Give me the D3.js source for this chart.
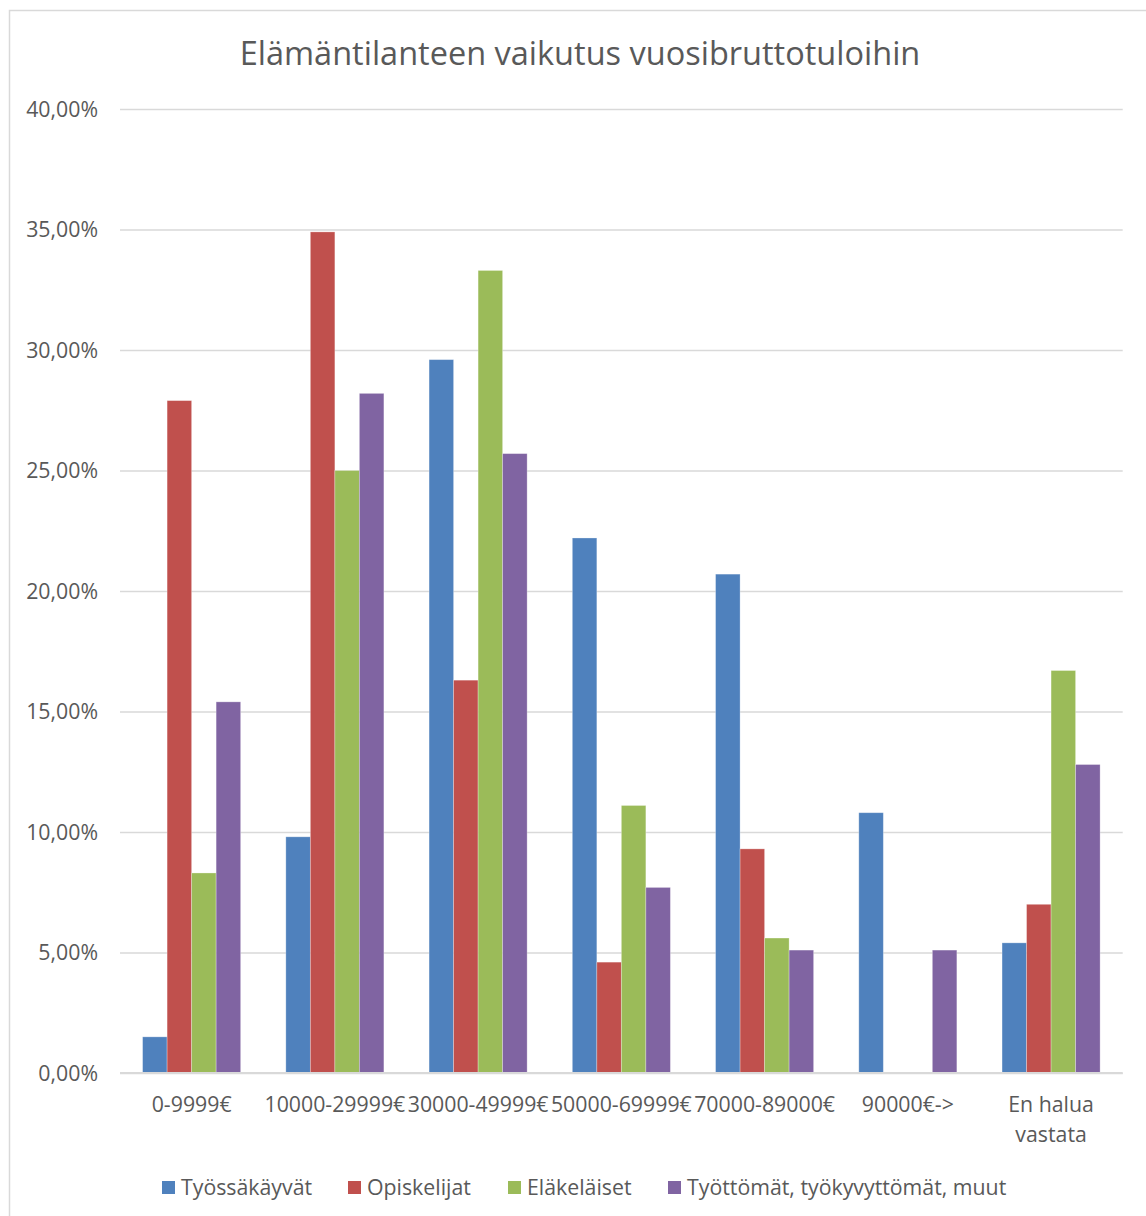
<!DOCTYPE html>
<html>
<head>
<meta charset="utf-8">
<script src="https://cdn.jsdelivr.net/npm/d3@7"></script>
<style>
  html, body { margin: 0; padding: 0; background: #fff; }
  svg { display: block; }
  text { font-family: "Open Sans", "Noto Sans", sans-serif; fill: #595959; }
</style>
</head>
<body>
<svg id="chart" width="1146" height="1216"></svg>
<script>
// Income bracket categories (x axis)
const categories = ["0-9999€", "10000-29999€", "30000-49999€", "50000-69999€", "70000-89000€", "90000€->", "En halua vastata"];
// Series names shown in the legend
const seriesNames = ["Työssäkäyvät", "Opiskelijat", "Eläkeläiset", "Työttömät, työkyvyttömät, muut"];
// Share of each group per income bracket (%)
const tyossakayvat = [1.5, 9.8, 29.6, 22.2, 20.7, 10.8, 5.4];
const opiskelijat  = [27.9, 34.9, 16.3, 4.6, 9.3, 0, 7.0];
const elakelaiset  = [8.3, 25.0, 33.3, 11.1, 5.6, 0, 16.7];
const tyottomat    = [15.4, 28.2, 25.7, 7.7, 5.1, 5.1, 12.8];
// Y axis ticks
const yTicks = [0, 5, 10, 15, 20, 25, 30, 35, 40];

const seriesValues = [tyossakayvat, opiskelijat, elakelaiset, tyottomat];
const colors = ["#4F81BD", "#C0504D", "#9BBB59", "#8064A2"];

const svg = d3.select("#chart");
const W = 1146, H = 1216;
const plot = { left: 120, right: 1122.7, top: 109, bottom: 1073 };
const labelSize = "21.3px";

// Outer chart frame
svg.append("rect")
  .attr("x", 9.5).attr("y", 10.5)
  .attr("width", W + 20).attr("height", H + 20)
  .attr("fill", "#fff").attr("stroke", "#d9d9d9").attr("stroke-width", 1.5);

// Title
svg.append("text")
  .attr("x", 580).attr("y", 65)
  .attr("text-anchor", "middle")
  .style("font-size", "32.5px")
  .text("Elämäntilanteen vaikutus vuosibruttotuloihin");

const x0 = d3.scaleBand().domain(categories).range([plot.left, plot.right]).paddingInner(0).paddingOuter(0);
const groupPad = 22.6;
const x1 = d3.scaleBand().domain(d3.range(seriesNames.length))
  .range([groupPad, x0.bandwidth() - groupPad]);
const y = d3.scaleLinear().domain([0, 40]).range([plot.bottom, plot.top]);

// Horizontal gridlines and percentage labels
const yAxis = d3.axisLeft(y).tickValues(yTicks)
  .tickSize(-(plot.right - plot.left))
  .tickPadding(22)
  .tickFormat(d => d3.format(".2f")(d).replace(".", ",") + "%");
const gy = svg.append("g").attr("transform", `translate(${plot.left},0)`).call(yAxis);
gy.select(".domain").remove();
gy.selectAll(".tick line").attr("stroke", "#d9d9d9").attr("stroke-width", 1.5);
gy.selectAll(".tick text").attr("fill", "#595959").style("font-size", labelSize)
  .attr("x", -22).attr("dy", "0.35em");

// Bars
const groups = svg.append("g").selectAll("g")
  .data(categories)
  .join("g")
  .attr("transform", d => `translate(${x0(d)},0)`);

groups.selectAll("rect")
  .data((c, i) => seriesValues.map((vals, s) => ({ s, v: vals[i] })))
  .join("rect")
  .filter(d => d.v > 0)
  .attr("x", d => x1(d.s))
  .attr("width", x1.bandwidth())
  .attr("y", d => y(d.v))
  .attr("height", d => y(0) - y(d.v))
  .attr("fill", d => colors[d.s])
  .attr("stroke", "rgba(255,255,255,0.35)")
  .attr("stroke-width", 0.8);

// Baseline
svg.append("line")
  .attr("x1", plot.left).attr("x2", plot.right)
  .attr("y1", y(0)).attr("y2", y(0))
  .attr("stroke", "#d9d9d9").attr("stroke-width", 2);

// X axis labels (last one wraps onto two lines)
const xAxis = d3.axisBottom(x0).tickSize(0).tickPadding(0);
const gx = svg.append("g").attr("transform", `translate(0,${plot.bottom})`).call(xAxis);
gx.select(".domain").remove();
gx.selectAll(".tick text")
  .attr("fill", "#595959")
  .style("font-size", labelSize)
  .attr("y", 39).attr("dy", 0)
  .each(function(d) {
    const t = d3.select(this);
    if (d === "En halua vastata") {
      t.text(null);
      t.append("tspan").attr("x", 0).attr("dy", 0).text("En halua");
      t.append("tspan").attr("x", 0).attr("dy", 30).text("vastata");
    }
  });

// Legend
const legendX = [162, 348, 508, 668];
const legend = svg.append("g");
seriesNames.forEach((name, i) => {
  legend.append("rect")
    .attr("x", legendX[i]).attr("y", 1181)
    .attr("width", 13).attr("height", 13)
    .attr("fill", colors[i]);
  legend.append("text")
    .attr("x", legendX[i] + 19).attr("y", 1195)
    .style("font-size", labelSize)
    .text(name);
});
</script>
</body>
</html>
